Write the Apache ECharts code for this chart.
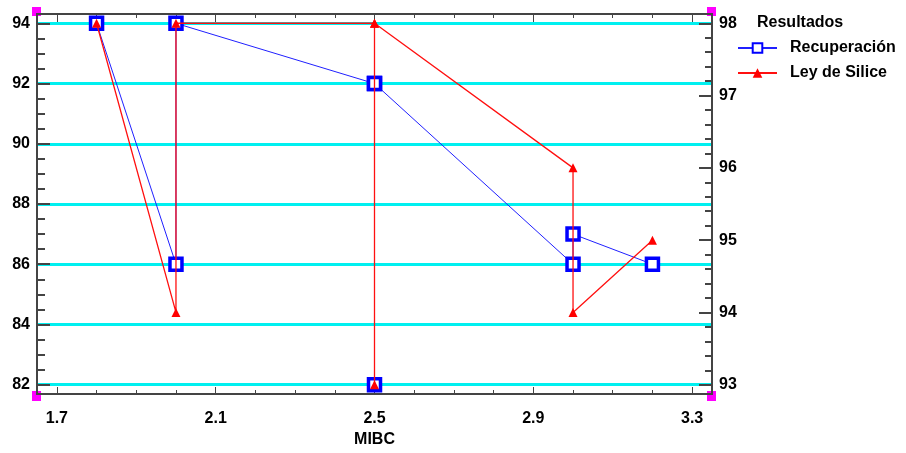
<!DOCTYPE html>
<html style="height: 100%">
<head>
<meta charset="utf-8" />
<title>MIBC</title>
<script type="text/javascript" src="https://cdn.jsdelivr.net/npm/echarts@6/dist/echarts.min.js"></script>
<style>
  body { margin: 0; background: #fff; }
  #container { width: 906px; height: 453px; }
</style>
</head>
<body>
<div id="container"></div>
<script type="text/javascript">
// datos (orden original de las corridas)
var mibc = [1.8, 2.0, 2.0, 2.5, 2.5, 2.5, 3.0, 3.0, 3.2];
var recuperacion = [94, 86, 94, 92, 82, 92, 86, 87, 86];
var leySilice = [98, 94, 98, 98, 93, 98, 96, 94, 95];

// marcas de los ejes
var xLabels = [1.7, 2.1, 2.5, 2.9, 3.3];
var xMinor = [1.7, 1.8, 1.9, 2.0, 2.1, 2.2, 2.3, 2.4, 2.5, 2.6, 2.7, 2.8, 2.9, 3.0, 3.1, 3.2, 3.3];
var yLeftLabels = [82, 84, 86, 88, 90, 92, 94];
var yLeftMinor = [82, 82.5, 83, 83.5, 84, 84.5, 85, 85.5, 86, 86.5, 87, 87.5, 88, 88.5, 89, 89.5, 90, 90.5, 91, 91.5, 92, 92.5, 93, 93.5, 94];
var yRightLabels = [93, 94, 95, 96, 97, 98];
var yRightMinor = [93, 93.2, 93.4, 93.6, 93.8, 94, 94.2, 94.4, 94.6, 94.8, 95, 95.2, 95.4, 95.6, 95.8, 96, 96.2, 96.4, 96.6, 96.8, 97, 97.2, 97.4, 97.6, 97.8, 98];

var font = "'Liberation Sans', Arial, sans-serif";
var axisColor = '#444';
var txt = { color: '#000', fontFamily: font, fontWeight: 'bold', fontSize: 16 };

function pairs(xs, ys) {
    var out = [];
    for (var i = 0; i < xs.length; i++) out.push([xs[i], ys[i]]);
    return out;
}

var myChart = echarts.init(document.getElementById('container'));

var xBase = { type: 'value', min: 1.65, max: 3.35, axisLine: { show: true, onZero: false, lineStyle: { color: axisColor, width: 2 } }, splitLine: { show: false } };
var yLeftBase = { type: 'value', position: 'left', min: 81.69, max: 94.31, axisLine: { show: true, lineStyle: { color: axisColor, width: 2 } } };
var yRightBase = { type: 'value', position: 'right', min: 92.872, max: 98.128, axisLine: { show: true, lineStyle: { color: axisColor, width: 2 } }, splitLine: { show: false } };

var option = {
    animation: false,
    backgroundColor: '#fff',
    grid: { left: 37, right: 194, top: 14, bottom: 57 },
    title: {
        text: 'Resultados',
        left: 757, top: 15, padding: 0,
        textStyle: txt
    },
    legend: {
        orient: 'vertical',
        left: 737, top: 40,
        padding: 0,
        itemWidth: 39, itemHeight: 12, itemGap: 9,
        textStyle: Object.assign({ padding: [0, 0, 0, 8] }, txt),
        data: ['Recuperación', 'Ley de Silice']
    },
    xAxis: [
        Object.assign({}, xBase, {
            position: 'bottom',
            name: 'MIBC', nameLocation: 'middle', nameGap: 38, nameTextStyle: txt,
            axisTick: { inside: true, length: 7, customValues: xLabels, lineStyle: { color: axisColor } },
            axisLabel: Object.assign({ customValues: xLabels, margin: 17 }, txt)
        }),
        Object.assign({}, xBase, {
            position: 'bottom',
            axisTick: { inside: true, length: 4, customValues: xMinor, lineStyle: { color: axisColor } },
            axisLabel: { show: false }
        }),
        Object.assign({}, xBase, {
            position: 'top',
            axisTick: { inside: true, length: 8, customValues: xLabels, lineStyle: { color: axisColor } },
            axisLabel: { show: false }
        }),
        Object.assign({}, xBase, {
            position: 'top',
            axisTick: { inside: true, length: 4, customValues: xMinor, lineStyle: { color: axisColor } },
            axisLabel: { show: false }
        })
    ],
    yAxis: [
        Object.assign({}, yLeftBase, {
            axisTick: { inside: true, length: 13, customValues: yLeftLabels, lineStyle: { color: axisColor, width: 2 } },
            axisLabel: Object.assign({ customValues: yLeftLabels, margin: 7 }, txt),
            splitLine: { show: true, lineStyle: { color: '#00f0f0', width: 3 } }
        }),
        Object.assign({}, yLeftBase, {
            axisTick: { inside: true, length: 8, customValues: yLeftMinor, lineStyle: { color: axisColor, width: 2 } },
            axisLabel: { show: false },
            splitLine: { show: false }
        }),
        Object.assign({}, yRightBase, {
            axisTick: { inside: true, length: 13, customValues: yRightLabels, lineStyle: { color: axisColor, width: 2 } },
            axisLabel: Object.assign({ customValues: yRightLabels, margin: 7 }, txt)
        }),
        Object.assign({}, yRightBase, {
            axisTick: { inside: true, length: 7, customValues: yRightMinor, lineStyle: { color: axisColor, width: 2 } },
            axisLabel: { show: false }
        })
    ],
    series: [
        {
            name: 'Recuperación',
            type: 'line',
            xAxisIndex: 0, yAxisIndex: 0,
            data: pairs(mibc, recuperacion),
            symbol: 'rect', symbolSize: 12,
            itemStyle: { color: '#fff', borderColor: '#0000ff', borderWidth: 3.5 },
            lineStyle: { color: '#2020ff', width: 1 },
            z: 3
        },
        {
            name: 'Ley de Silice',
            type: 'line',
            xAxisIndex: 0, yAxisIndex: 2,
            data: pairs(mibc, leySilice),
            symbol: 'triangle', symbolSize: 9,
            itemStyle: { color: '#ff0000' },
            lineStyle: { color: '#ff1010', width: 1.3 },
            z: 4
        }
    ],
    graphic: [
        { type: 'rect', shape: { x: 32, y: 7, width: 9, height: 9 }, style: { fill: '#ff00ff' } },
        { type: 'rect', shape: { x: 707, y: 7, width: 9, height: 9 }, style: { fill: '#ff00ff' } },
        { type: 'rect', shape: { x: 32, y: 391, width: 9, height: 10 }, style: { fill: '#ff00ff' } },
        { type: 'rect', shape: { x: 707, y: 391, width: 9, height: 10 }, style: { fill: '#ff00ff' } }
    ]
};

myChart.setOption(option);
</script>
</body>
</html>
